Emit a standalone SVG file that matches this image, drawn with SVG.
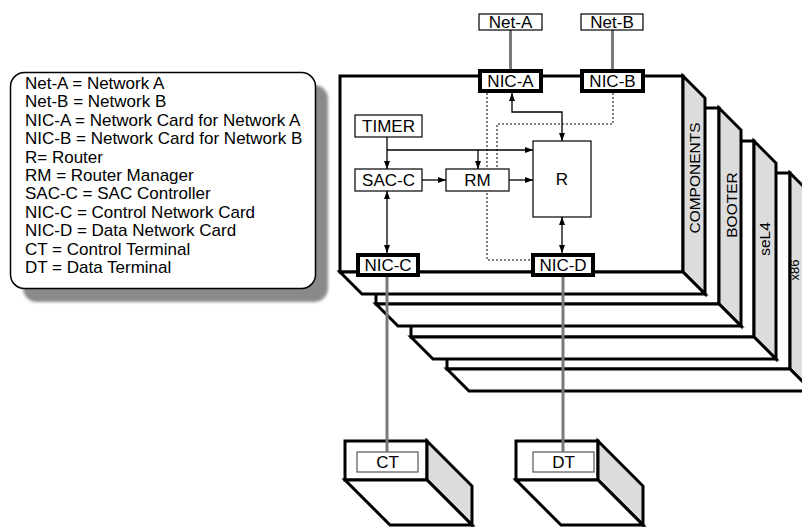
<svg xmlns="http://www.w3.org/2000/svg" width="802" height="527" viewBox="0 0 802 527">
<style>
text{font-family:"Liberation Sans",Arial,sans-serif;font-size:17px;fill:#000}
.lbl{text-anchor:middle}
.lay{font-size:15.5px;text-anchor:middle}
.face{fill:#fff;stroke:#000;stroke-width:3;stroke-linejoin:miter}
.side{fill:#dcdcdc;stroke:#000;stroke-width:3;stroke-linejoin:miter}
.box{fill:#fff;stroke:#000;stroke-width:1.2}
.nic{fill:#fff;stroke:#000;stroke-width:4}
.tl{fill:#fff;stroke:#555;stroke-width:1.2}
.gray{stroke:#7a7a7a;stroke-width:3;fill:none}
.ar{stroke:#000;stroke-width:1.3;fill:none;marker-end:url(#ah)}
.ar2{stroke:#000;stroke-width:1.3;fill:none;marker-end:url(#ah);marker-start:url(#ah)}
.dot{stroke:#000;stroke-width:1;fill:none;stroke-dasharray:2,2}
</style>
<defs>
<marker id="ah" markerWidth="8" markerHeight="6" refX="8" refY="3" orient="auto-start-reverse" markerUnits="userSpaceOnUse"><path d="M0,0 L8,3 L0,6 z" fill="#000"/></marker>
<filter id="blur" x="-10%" y="-10%" width="120%" height="120%"><feGaussianBlur stdDeviation="1.5"/></filter>
</defs>
<rect width="802" height="527" fill="#fff"/>
<g id="legend">
<rect x="23" y="85" width="305" height="217" rx="14" fill="#8a8a8a" filter="url(#blur)"/>
<rect x="10.5" y="72.5" width="305" height="216" rx="14" fill="#fff" stroke="#000" stroke-width="1.5"/>
<text x="25" y="89">Net-A = Network A</text>
<text x="25" y="107.4">Net-B = Network B</text>
<text x="25" y="125.8">NIC-A = Network Card for Network A</text>
<text x="25" y="144.2">NIC-B = Network Card for Network B</text>
<text x="25" y="162.6">R= Router</text>
<text x="25" y="181">RM = Router Manager</text>
<text x="25" y="199.4">SAC-C = SAC Controller</text>
<text x="25" y="217.8">NIC-C = Control Network Card</text>
<text x="25" y="236.2">NIC-D = Data Network Card</text>
<text x="25" y="254.6">CT = Control Terminal</text>
<text x="25" y="273">DT = Data Terminal</text>
</g>
<g id="layer-x86">
<rect class="face" x="447" y="173" width="343" height="196"/>
<polygon class="side" points="790,173 812,195 812,391 790,369"/>
<polygon class="face" points="447,369 790,369 812,391 469,391"/>
<text class="lay" style="font-size:13px" transform="translate(799,270) rotate(-90)">x86</text>
</g>
<g id="layer-sel4">
<rect class="face" x="411" y="141" width="343" height="196"/>
<polygon class="side" points="754,141 776,163 776,359 754,337"/>
<polygon class="face" points="411,337 754,337 776,359 433,359"/>
<text class="lay" transform="translate(770,239) rotate(-90)">seL4</text>
</g>
<g id="layer-booter">
<rect class="face" x="376" y="108" width="343" height="196"/>
<polygon class="side" points="719,108 741,130 741,326 719,304"/>
<polygon class="face" points="376,304 719,304 741,326 398,326"/>
<text class="lay" transform="translate(737,205) rotate(-90)">BOOTER</text>
</g>
<g id="layer-components">
<rect class="face" x="340" y="76" width="343" height="196"/>
<polygon class="side" points="683,76 705,98 705,294 683,272"/>
<polygon class="face" points="340,272 683,272 705,294 362,294"/>
<text class="lay" transform="translate(699.5,178) rotate(-90)">COMPONENTS</text>
</g>
<g id="ct">
<rect class="face" x="345" y="441" width="82" height="39"/>
<polygon class="side" points="427,441 472,486 472,525 427,480"/>
<polygon class="face" points="345,480 427,480 472,525 390,525"/>
<rect class="tl" x="357" y="452" width="61" height="20"/>
<text class="lbl" x="387.5" y="468">CT</text>
</g>
<g id="dt">
<rect class="face" x="516" y="441" width="82" height="39"/>
<polygon class="side" points="598,441 643,486 643,525 598,480"/>
<polygon class="face" points="516,480 598,480 643,525 561,525"/>
<rect class="tl" x="533" y="452" width="61" height="20"/>
<text class="lbl" x="563.5" y="468">DT</text>
</g>
<g id="connectors">
<line class="gray" x1="510.5" y1="30" x2="510.5" y2="70"/>
<line class="gray" x1="612.5" y1="30" x2="612.5" y2="70"/>
<line class="gray" x1="387" y1="276" x2="387" y2="452"/>
<line class="gray" x1="563" y1="276" x2="563" y2="452"/>
<polyline class="dot" points="487,93 487,260 531,260"/>
<polyline class="dot" points="613,93 613,124 497,124 497,169"/>
<line class="ar" x1="387" y1="137" x2="387" y2="169"/>
<polyline class="ar" points="387,150 533,150"/>
<line class="ar" x1="478" y1="150" x2="478" y2="169"/>
<line class="ar" x1="422" y1="180" x2="446" y2="180"/>
<line class="ar" x1="509" y1="180" x2="533" y2="180"/>
<line class="ar2" x1="387" y1="191" x2="387" y2="253"/>
<line class="ar2" x1="562" y1="217" x2="562" y2="253"/>
<polyline class="ar2" points="512,93 512,112 562,112 562,141"/>
</g>
<g id="net-a"><rect class="box" x="479" y="14" width="63" height="16"/><text class="lbl" x="510.5" y="28">Net-A</text></g>
<g id="net-b"><rect class="box" x="581" y="14" width="62" height="16"/><text class="lbl" x="612" y="28">Net-B</text></g>
<g id="nic-a"><rect class="nic" x="480" y="71" width="61" height="20"/><text class="lbl" x="510.5" y="87">NIC-A</text></g>
<g id="nic-b"><rect class="nic" x="582" y="71" width="61" height="20"/><text class="lbl" x="612.5" y="87">NIC-B</text></g>
<g id="timer"><rect class="box" x="355" y="115" width="67" height="22"/><text class="lbl" x="388.5" y="132">TIMER</text></g>
<g id="sac-c"><rect class="box" x="355" y="169" width="67" height="22"/><text class="lbl" x="388.5" y="186">SAC-C</text></g>
<g id="rm"><rect class="box" x="446" y="169" width="63" height="22"/><text class="lbl" x="477.5" y="186">RM</text></g>
<g id="r"><rect class="box" x="533" y="141" width="58" height="76"/><text class="lbl" x="562" y="185">R</text></g>
<g id="nic-c"><rect class="nic" x="358" y="255" width="60" height="20"/><text class="lbl" x="388" y="271">NIC-C</text></g>
<g id="nic-d"><rect class="nic" x="533" y="255" width="60" height="20"/><text class="lbl" x="563" y="271">NIC-D</text></g>
</svg>
